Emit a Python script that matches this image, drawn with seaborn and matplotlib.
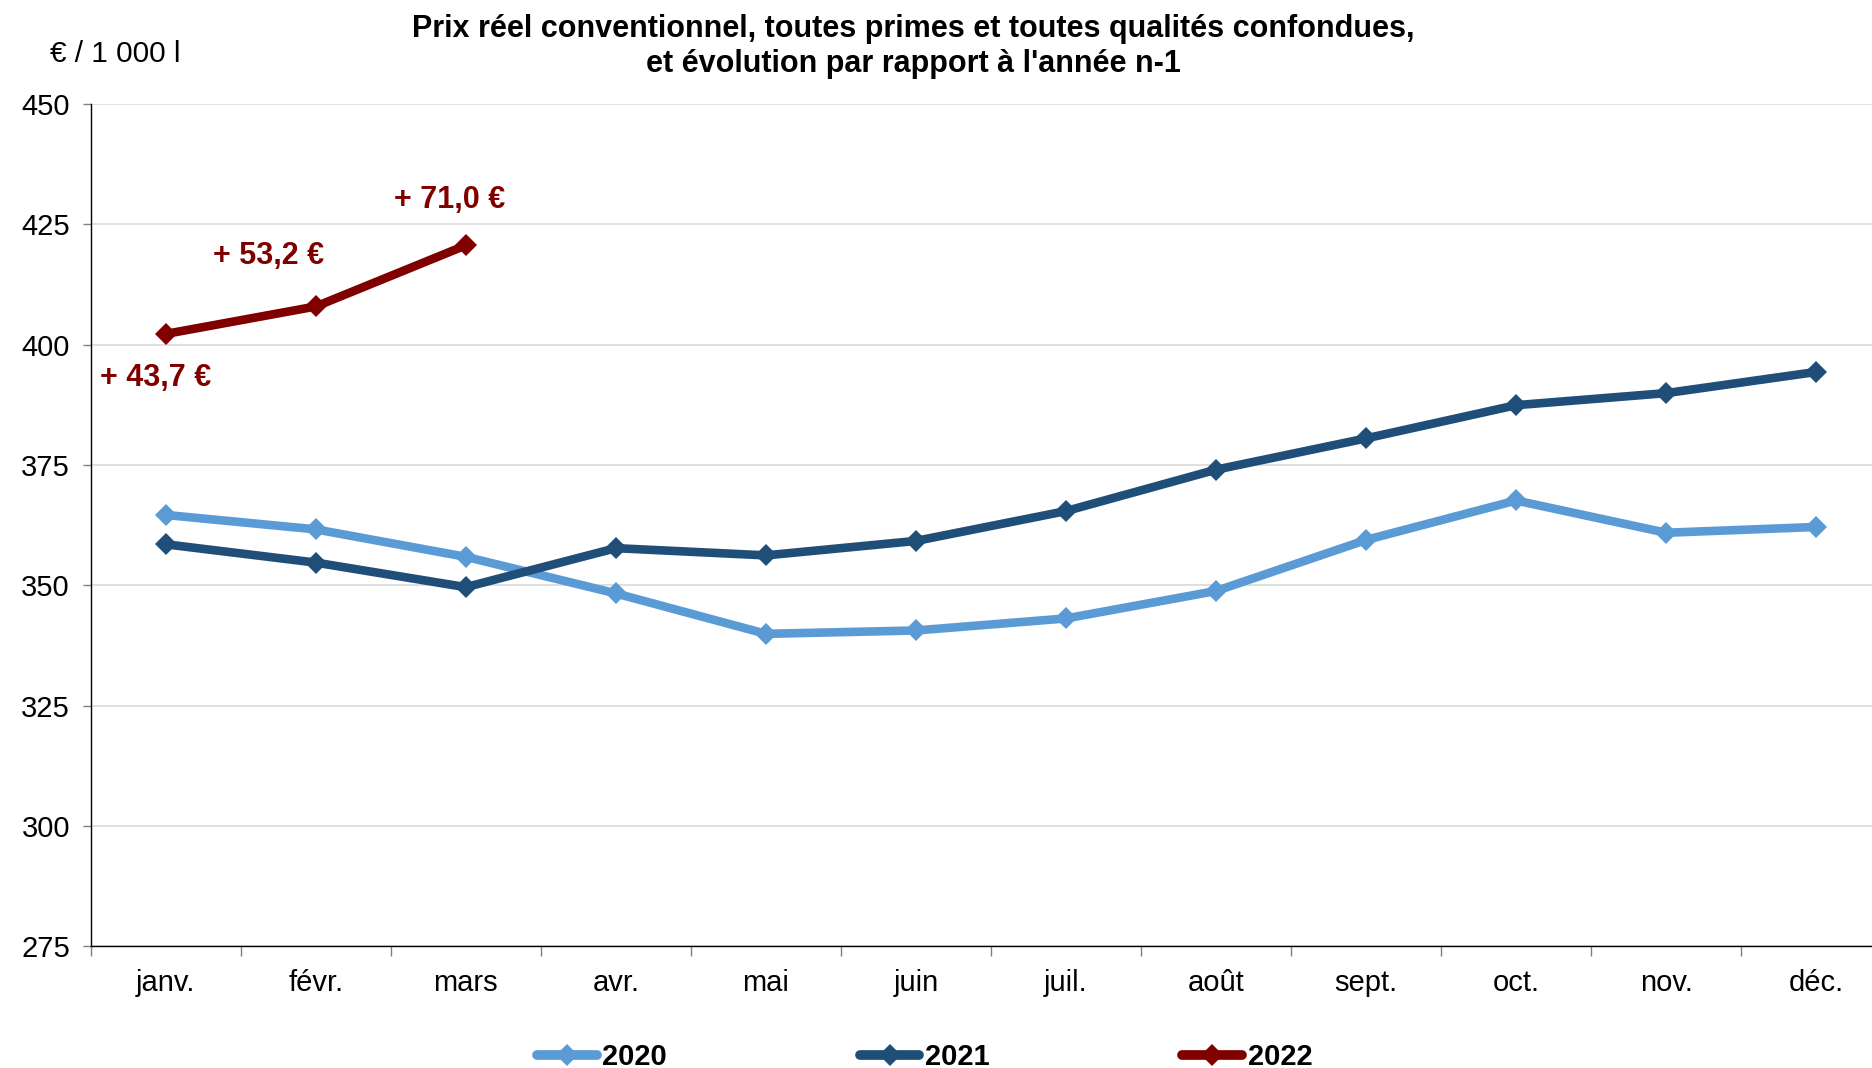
import matplotlib
matplotlib.use("Agg")
import matplotlib.pyplot as plt
from matplotlib.ticker import MultipleLocator, FixedLocator
import seaborn as sns
import pandas as pd
import numpy as np

months = ["janv.", "févr.", "mars", "avr.", "mai", "juin", "juil.", "août",
          "sept.", "oct.", "nov.", "déc."]
prix_2020 = [364.6, 361.6, 355.9, 348.3, 339.9, 340.6, 343.1, 348.8, 359.4, 367.6, 360.9, 362.1]
prix_2021 = [358.5, 354.7, 349.6, 357.7, 356.2, 359.2, 365.4, 374.0, 380.5, 387.4, 389.9, 394.3]
prix_2022 = [402.2, 407.9, 420.6]
evol_labels = ["+ 43,7 €", "+ 53,2 €", "+ 71,0 €"]
years = ["2020", "2021", "2022"]
colors = {"2020": "#5B9BD5", "2021": "#1F4E79", "2022": "#800000"}

rows = []
for yr, vals in zip(years, [prix_2020, prix_2021, prix_2022]):
    for i, v in enumerate(vals):
        rows.append({"mois": i, "prix": v, "annee": yr})
df = pd.DataFrame(rows)

sns.set_theme(style="white")
plt.rcParams["font.family"] = ["Liberation Sans", "DejaVu Sans"]
plt.rcParams["text.color"] = "black"

FS = 21

fig = plt.figure(figsize=(18.72, 10.68), dpi=100)
ax = fig.add_axes([76/1568, 1-793/895, (1584-76)/1568, (793-87)/895])

sns.lineplot(data=df, x="mois", y="prix", hue="annee", palette=colors,
             marker="D", markersize=11.5, markeredgewidth=0, linewidth=6.2,
             sort=False, ax=ax, legend=True)

ax.set_xlim(-0.5, 11.5)
ax.set_ylim(275, 450)
ax.yaxis.set_major_locator(MultipleLocator(25))
ax.set_xticks(range(12))
ax.set_xticklabels(months)
ax.xaxis.set_minor_locator(FixedLocator(np.arange(-0.5, 12, 1)))
ax.tick_params(axis="x", which="major", length=0, pad=16, labelsize=FS, colors="black")
ax.tick_params(axis="x", which="minor", length=7, width=1, color="#808080", direction="out", bottom=True)
ax.tick_params(axis="y", which="major", length=6, width=1, color="#808080", direction="out",
               left=True, pad=9, labelsize=FS, labelcolor="black")
ax.set_xlabel("")
ax.set_ylabel("")
ax.grid(axis="y", color="#D9D9D9", linewidth=1.2)
ax.set_axisbelow(True)
for s in ["top", "right"]:
    ax.spines[s].set_visible(False)
for s in ["left", "bottom"]:
    ax.spines[s].set_color("black")
    ax.spines[s].set_linewidth(1.0)

# annotations
offsets = [(-7, -32), (-34, 36), (-12, 33)]
for i, (lab, off) in enumerate(zip(evol_labels, offsets)):
    ax.annotate(lab, xy=(i, prix_2022[i]), xytext=off, textcoords="offset points",
                ha="center", va="center", fontsize=FS + 1, fontweight="bold", color="#800000")

fig.text(0.488, 1-24/895, "Prix réel conventionnel, toutes primes et toutes qualités confondues,",
         ha="center", va="center", fontsize=FS + 1, fontweight="bold", color="black")
fig.text(0.488, 1-54/895, "et évolution par rapport à l'année n-1",
         ha="center", va="center", fontsize=FS + 1, fontweight="bold", color="black")
fig.text(42/1568, 1-45/895, "€ / 1 000 l", ha="left", va="center", fontsize=FS + 0.5, color="black")

handles, labels = ax.get_legend_handles_labels()
for h in handles:
    h.set_linewidth(7)
    h.set_markersize(11)
ax.legend_.remove()
leg = fig.legend(handles, labels, loc="center", bbox_to_anchor=(0.494, 1-886/895),
                 ncol=3, frameon=False, handlelength=2.05, handletextpad=0.2,
                 columnspacing=6.6, prop={"weight": "bold", "size": FS})
for t in leg.get_texts():
    t.set_color("black")

fig.savefig("out.png", dpi=100)
